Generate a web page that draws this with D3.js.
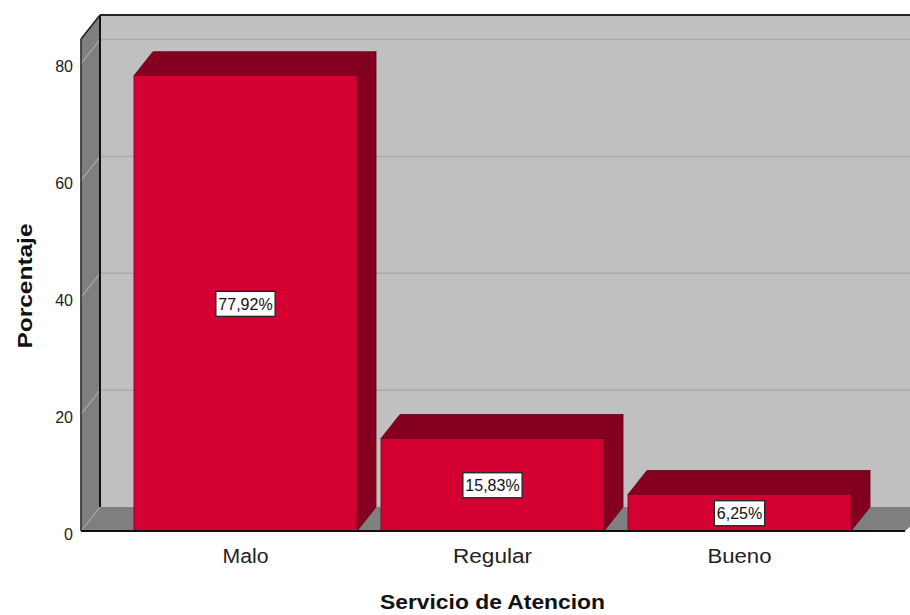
<!DOCTYPE html>
<html>
<head>
<meta charset="utf-8">
<script src="https://cdn.jsdelivr.net/npm/d3@7"></script>
<style>
  html, body { margin: 0; padding: 0; background: #fff; }
  svg { display: block; font-family: "Liberation Sans", Arial, sans-serif; }
</style>
</head>
<body>
<svg id="chart" width="910" height="615"></svg>
<script>
const categories = ["Malo", "Regular", "Bueno"];
const values = [77.92, 15.83, 6.25];
const valueLabels = ["77,92%", "15,83%", "6,25%"];
const yTicks = [0, 20, 40, 60, 80];
const xTitle = "Servicio de Atencion";
const yTitle = "Porcentaje";

const svg = d3.select("#chart");
const DX = 19, DY = 24;
const y = d3.scaleLinear().domain([0, 84.2]).range([531, 39]);
const x = d3.scaleBand().domain(categories).range([122, 863]).paddingInner(0.097).paddingOuter(0.0485);
const x0 = 81, xEnd = 905;
const yBase = y(0), yTop = y(84.2);

// back wall
svg.append("rect").attr("x", x0 + DX).attr("y", yTop - DY)
  .attr("width", 940).attr("height", yBase - yTop).attr("fill", "#c0c0c0");
// left wall
svg.append("path").attr("d", `M${x0},${yBase} L${x0},${yTop} L${x0+DX},${yTop-DY} L${x0+DX},${yBase-DY} Z`)
  .attr("fill", "#7f7f7f").attr("stroke", "#555").attr("stroke-width", 1);
// floor
svg.append("path").attr("d", `M${x0},${yBase} L${x0+DX},${yBase-DY} L${xEnd+DX+10},${yBase-DY} L${xEnd},${yBase} Z`)
  .attr("fill", "#7f7f7f");

// gridlines
yTicks.forEach(t => {
  const yy = y(t);
  if (t > 0) {
    svg.append("line").attr("x1", x0 + DX).attr("x2", 920).attr("y1", yy - DY).attr("y2", yy - DY)
      .attr("stroke", "#aaaaaa").attr("stroke-width", 1.5);
  }
  svg.append("line").attr("x1", x0).attr("y1", yy).attr("x2", x0 + DX).attr("y2", yy - DY)
    .attr("stroke", "#a8a8a8").attr("stroke-width", 1.2);
});

// wall edges
svg.append("line").attr("x1", x0 + DX).attr("x2", 920).attr("y1", yTop - DY).attr("y2", yTop - DY)
  .attr("stroke", "#222").attr("stroke-width", 2);
svg.append("line").attr("x1", x0 + DX).attr("x2", x0 + DX).attr("y1", yTop - DY).attr("y2", yBase - DY)
  .attr("stroke", "#111").attr("stroke-width", 2);
svg.append("line").attr("x1", x0).attr("x2", x0 + DX).attr("y1", yTop).attr("y2", yTop - DY)
  .attr("stroke", "#222").attr("stroke-width", 1.5);
svg.append("line").attr("x1", x0).attr("x2", x0).attr("y1", yTop).attr("y2", yBase)
  .attr("stroke", "#333").attr("stroke-width", 1.5);

// bars
const bw = x.bandwidth();
categories.forEach((c, i) => {
  const bx = x(c), by = y(values[i]);
  const g = svg.append("g");
  g.append("path").attr("d", `M${bx+bw},${yBase} L${bx+bw},${by} L${bx+bw+DX},${by-DY} L${bx+bw+DX},${yBase-DY} Z`)
    .attr("fill", "#850020").attr("stroke", "#5e0016").attr("stroke-width", 0.8);
  g.append("path").attr("d", `M${bx},${by} L${bx+DX},${by-DY} L${bx+bw+DX},${by-DY} L${bx+bw},${by} Z`)
    .attr("fill", "#850020").attr("stroke", "#5e0016").attr("stroke-width", 0.8);
  g.append("rect").attr("x", bx).attr("y", by).attr("width", bw).attr("height", yBase - by)
    .attr("fill", "#d50032").attr("stroke", "#7a0020").attr("stroke-width", 0.8);
  const cx = bx + bw / 2, cy = (by + yBase) / 2;
  const txt = g.append("text").attr("x", cx).attr("y", cy + 1).attr("text-anchor", "middle")
    .attr("dominant-baseline", "central").attr("font-size", 16).attr("fill", "#111").text(valueLabels[i]);
  const bb = txt.node().getBBox();
  g.insert("rect", "text").attr("x", bb.x - 2.5).attr("y", cy - 12).attr("width", bb.width + 5).attr("height", 25)
    .attr("fill", "#fff").attr("stroke", "#222").attr("stroke-width", 1.3);
});

// bottom front edge
svg.append("line").attr("x1", x0).attr("x2", xEnd).attr("y1", yBase).attr("y2", yBase)
  .attr("stroke", "#111").attr("stroke-width", 2);

// y tick labels
yTicks.forEach(t => {
  svg.append("text").attr("x", 73).attr("y", y(t) + 3).attr("text-anchor", "end")
    .attr("dominant-baseline", "central").attr("font-size", 16).attr("fill", "#222").text(t);
});
// x category labels
const catWidths = [46, 79, 64];
categories.forEach((c, i) => {
  svg.append("text").attr("x", x(c) + bw / 2).attr("y", 563).attr("text-anchor", "middle")
    .attr("font-size", 20).attr("fill", "#222")
    .attr("textLength", catWidths[i]).attr("lengthAdjust", "spacingAndGlyphs").text(c);
});
// axis titles
svg.append("text").attr("x", 492.5).attr("y", 609).attr("text-anchor", "middle")
  .attr("font-size", 20).attr("font-weight", "bold").attr("fill", "#111")
  .attr("textLength", 225).attr("lengthAdjust", "spacingAndGlyphs").text(xTitle);
svg.append("text").attr("transform", "translate(32,286) rotate(-90)").attr("text-anchor", "middle")
  .attr("font-size", 20).attr("font-weight", "bold").attr("fill", "#111")
  .attr("textLength", 125).attr("lengthAdjust", "spacingAndGlyphs").text(yTitle);
</script>
</body>
</html>
